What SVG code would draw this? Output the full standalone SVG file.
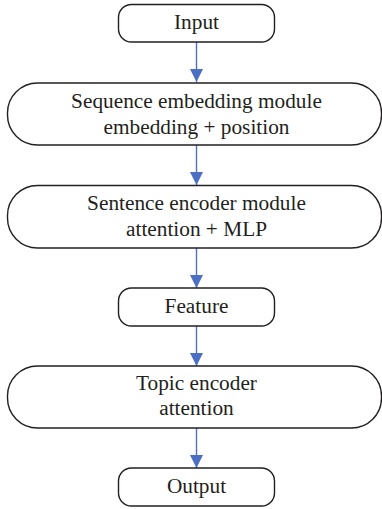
<svg xmlns="http://www.w3.org/2000/svg" width="382" height="509" viewBox="0 0 382 509">
<style>
.box{fill:#fff;stroke:#231f20;stroke-width:1.4}
.t{font-family:"Liberation Serif","Times New Roman",serif;font-size:21.3px;fill:#231f20;text-anchor:middle}
.c{stroke:#4a6fc4;stroke-width:1.4;fill:none}
</style>
<defs>
<marker id="ah" markerWidth="14" markerHeight="13" refX="13" refY="6.5" orient="auto" markerUnits="userSpaceOnUse">
<path d="M0,0 L13,6.5 L0,13 Z" fill="#4a6fc4"/>
</marker>
</defs>
<rect width="382" height="509" fill="#fff"/>
<g id="connectors">
<line class="c" x1="196.5" y1="42" x2="196.5" y2="82" marker-end="url(#ah)"/>
<line class="c" x1="196.5" y1="145" x2="196.5" y2="185" marker-end="url(#ah)"/>
<line class="c" x1="196.5" y1="248" x2="196.5" y2="288" marker-end="url(#ah)"/>
<line class="c" x1="196.5" y1="326" x2="196.5" y2="366" marker-end="url(#ah)"/>
<line class="c" x1="196.5" y1="428" x2="196.5" y2="468" marker-end="url(#ah)"/>
</g>
<g id="input">
<rect class="box" x="118.5" y="4.5" width="156" height="37.5" rx="13"/>
<text class="t" x="196.5" y="29">Input</text>
</g>
<g id="seq">
<rect class="box" x="7.5" y="83" width="374" height="62" rx="30"/>
<text class="t" x="196.5" y="108">Sequence embedding module</text>
<text class="t" x="196.5" y="133.5">embedding + position</text>
</g>
<g id="sent">
<rect class="box" x="7.5" y="185.5" width="374" height="62.5" rx="30"/>
<text class="t" x="196.5" y="210">Sentence encoder module</text>
<text class="t" x="196.5" y="235.5">attention + MLP</text>
</g>
<g id="feature">
<rect class="box" x="118.5" y="288" width="156" height="38" rx="13"/>
<text class="t" x="196.5" y="313">Feature</text>
</g>
<g id="topic">
<rect class="box" x="7.5" y="366" width="374" height="62" rx="30"/>
<text class="t" x="196.5" y="390">Topic encoder</text>
<text class="t" x="196.5" y="415">attention</text>
</g>
<g id="output">
<rect class="box" x="118.5" y="468" width="156" height="38" rx="13"/>
<text class="t" x="196.5" y="493">Output</text>
</g>
</svg>
